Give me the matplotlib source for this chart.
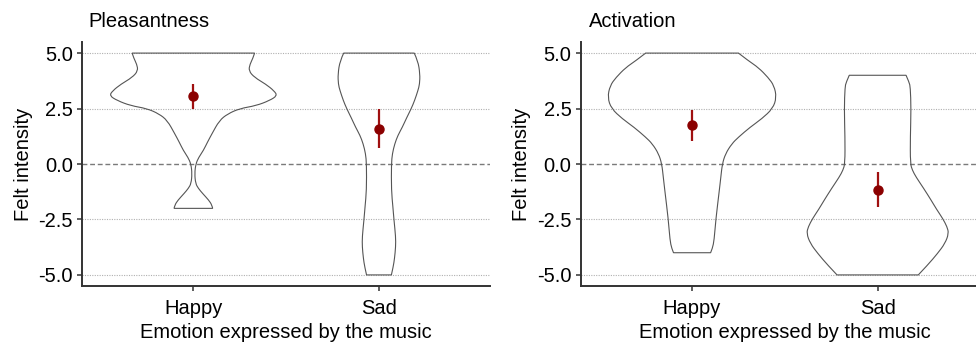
import numpy as np
import matplotlib.pyplot as plt
from matplotlib.path import Path
from matplotlib.patches import PathPatch

plt.rcParams['font.family'] = ['Liberation Sans', 'DejaVu Sans']

emotions = ['Happy', 'Sad']
panels = ['Pleasantness', 'Activation']
yticks = [-5.0, -2.5, 0.0, 2.5, 5.0]
ytick_labels = ['-5.0', '-2.5', '0.0', '2.5', '5.0']

# violin outlines: level and half width (x units)
pl_happy_y = [-2.0, -1.85, -1.63, -1.33, -1.1, -0.88, -0.43, 0.0, 0.3, 0.61, 1.0, 1.36,
              1.96, 2.26, 2.5, 2.63, 2.86, 3.08, 3.3, 3.6, 3.9, 4.2, 4.5, 4.75, 5.0]
pl_happy_w = [0.104, 0.1, 0.083, 0.05, 0.027, 0.012, 0.007, 0.013, 0.029, 0.054, 0.077, 0.1,
              0.14, 0.185, 0.25, 0.338, 0.41, 0.452, 0.435, 0.39, 0.33, 0.298, 0.305, 0.32, 0.33]

pl_sad_y = [-5.0, -4.63, -4.25, -3.73, -3.28, -2.53, -1.93, -1.18, 0.0, 0.46, 0.91, 1.29,
            1.66, 2.08, 2.5, 2.86, 3.31, 3.6, 4.06, 4.65, 5.0]
pl_sad_w = [0.067, 0.077, 0.084, 0.09, 0.09, 0.081, 0.075, 0.067, 0.067, 0.072, 0.085, 0.102,
            0.126, 0.149, 0.174, 0.192, 0.21, 0.219, 0.221, 0.21, 0.19]

ac_happy_y = [-4.0, -3.8, -3.43, -2.5, -1.18, -0.59, 0.0, 0.46, 0.91, 1.21, 1.66, 2.04,
              2.5, 3.0, 3.53, 3.9, 4.35, 4.65, 5.0]
ac_happy_w = [0.1, 0.11, 0.119, 0.128, 0.147, 0.155, 0.163, 0.18, 0.214, 0.25, 0.313, 0.376,
              0.435, 0.455, 0.442, 0.41, 0.357, 0.304, 0.25]

ac_sad_y = [-5.0, -4.55, -4.03, -3.58, -3.13, -2.83, -2.45, -2.05, -1.63, -1.1, -0.59, -0.28,
            0.02, 1.21, 2.49, 3.46, 3.68, 4.0]
ac_sad_w = [0.219, 0.27, 0.323, 0.363, 0.383, 0.374, 0.35, 0.318, 0.288, 0.248, 0.207, 0.187,
            0.176, 0.176, 0.18, 0.176, 0.17, 0.153]

violins = {
    'Pleasantness': [(pl_happy_y, pl_happy_w), (pl_sad_y, pl_sad_w)],
    'Activation': [(ac_happy_y, ac_happy_w), (ac_sad_y, ac_sad_w)],
}

# means with interval (low, high)
pl_mean = [3.05, 1.6]
pl_low = [2.5, 0.7]
pl_high = [3.6, 2.5]
ac_mean = [1.75, -1.15]
ac_low = [1.05, -1.95]
ac_high = [2.45, -0.35]
summaries = {
    'Pleasantness': (pl_mean, pl_low, pl_high),
    'Activation': (ac_mean, ac_low, ac_high),
}


def side_path(pts):
    # quadratic bezier through midpoints, endpoints kept
    verts, codes = [], []
    n = len(pts)
    for i in range(1, n - 1):
        end = pts[i + 1] if i == n - 2 else (pts[i] + pts[i + 1]) / 2
        verts += [pts[i], end]
        codes += [Path.CURVE3, Path.CURVE3]
    return verts, codes


def violin_patch(pos, vy, vw):
    vy = np.array(vy)
    vw = np.array(vw)
    left = np.column_stack([pos - vw, vy])
    right = np.column_stack([pos + vw, vy])[::-1]
    verts, codes = [left[0]], [Path.MOVETO]
    v, c = side_path(left)
    verts += v
    codes += c
    verts.append(right[0])
    codes.append(Path.LINETO)
    v, c = side_path(right)
    verts += v
    codes += c
    verts.append(left[0])
    codes.append(Path.CLOSEPOLY)
    return PathPatch(Path(verts, codes), facecolor='none', edgecolor='#555555', lw=0.8, zorder=2)


W, H = 976, 345
fig = plt.figure(figsize=(W / 100, H / 100), dpi=100)

axes_px = [82, 580.7]
title_px = [88, 588.7]
fs = 14.5

for k, panel in enumerate(panels):
    left = axes_px[k]
    ax = fig.add_axes([left / W, 1 - 286 / H, 2.2 * 185.6 / W, (286 - 42) / H])
    ax.set_xlim(0.4, 2.6)
    ax.set_ylim(-5.5, 5.5)

    # reference lines
    for t in [5.0, 2.5, -2.5, -5.0]:
        ax.axhline(t, color='#b0b0b0', lw=0.8, ls=(0, (1, 1.2)), zorder=1)
    ax.axhline(0, color='#7a7a7a', lw=1.0, ls=(0, (3.5, 2)), zorder=1)

    for i, (vy, vw) in enumerate(violins[panel]):
        ax.add_patch(violin_patch(i + 1, vy, vw))

    m, lo, hi = summaries[panel]
    pos = np.arange(1, len(emotions) + 1)
    ax.vlines(pos, lo, hi, color='#a01010', lw=1.6, zorder=3)
    ax.plot(pos, m, 'o', color='#8b0000', ms=6.5, zorder=4)

    ax.set_xticks(pos)
    ax.set_xticklabels(emotions)
    ax.set_yticks(yticks)
    ax.set_yticklabels(ytick_labels)
    ax.tick_params(length=3.6, width=1.1, color='#333333', labelsize=fs, labelcolor='black')
    ax.tick_params(axis='y', pad=3)
    ax.tick_params(axis='x', pad=6)
    for s in ['top', 'right']:
        ax.spines[s].set_visible(False)
    for s in ['left', 'bottom']:
        ax.spines[s].set_color('#333333')
        ax.spines[s].set_linewidth(1.4)

    ax.set_xlabel('Emotion expressed by the music', fontsize=fs, labelpad=3)
    ax.set_ylabel('Felt intensity', fontsize=fs, labelpad=4)

    fig.text(title_px[k] / W, 1 - 26.7 / H, panel, fontsize=fs, va='baseline', ha='left')

fig.savefig('out.png', dpi=100)
